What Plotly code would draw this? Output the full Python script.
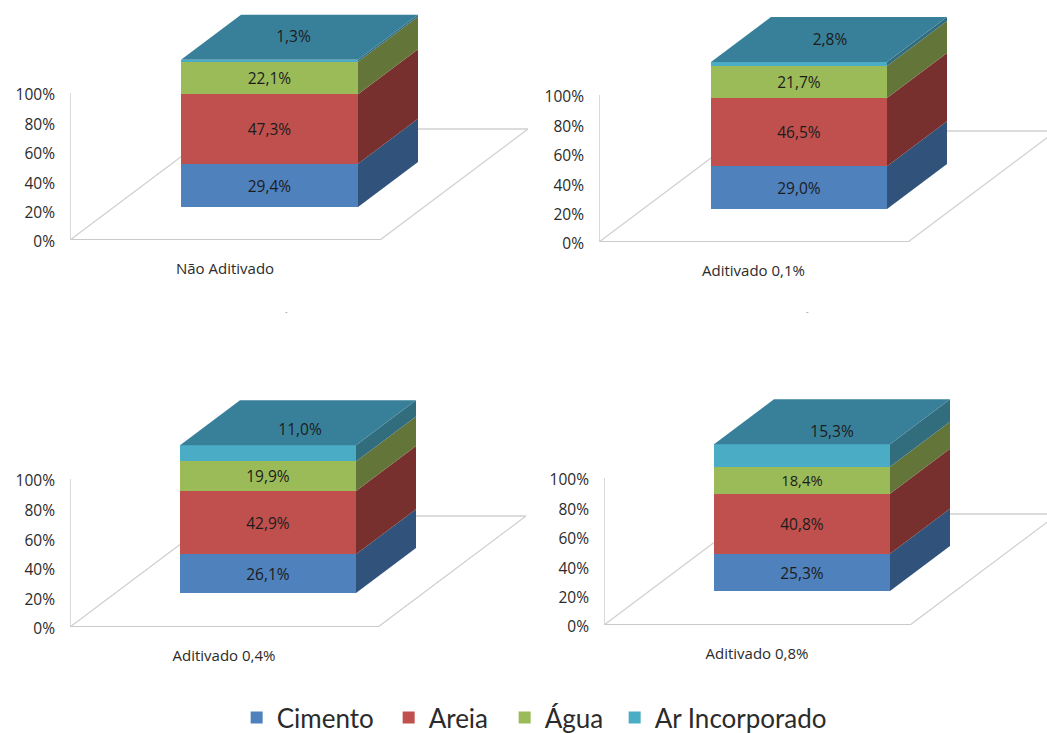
import plotly.graph_objects as go

# ---- data ----
categories = ["Não Aditivado", "Aditivado 0,1%", "Aditivado 0,4%", "Aditivado 0,8%"]
cimento = [29.4, 29.0, 26.1, 25.3]
areia = [47.3, 46.5, 42.9, 40.8]
agua = [22.1, 21.7, 19.9, 18.4]
ar_incorporado = [1.3, 2.8, 11.0, 15.3]
series_names = ["Cimento", "Areia", "Água", "Ar Incorporado"]
y_ticks = [0, 20, 40, 60, 80, 100]
y_tick_labels = ["0%", "20%", "40%", "60%", "80%", "100%"]

# ---- styles / panel geometry (page pixels) ----
W, H = 1047, 733
front = ["#4F81BD", "#C0504D", "#9BBB59", "#4BACC6"]
side = ["#31527A", "#78302E", "#64753A", "#326D7E"]
legend_widths = [107, 71, 65, 180]
top_col = "#38809A"
FONT = "Open Sans"
TXT = "#2b2b2b"
#         axis_x, y0,  y100, floor_right, bar_l, bar_r, bar_base, top_of_panel
panels = [(70, 240, 93, 380, 181, 358, 207, 5),
          (599, 242, 95, 908, 711, 887, 209, 5),
          (70, 627, 479, 378, 180, 356, 593, 390),
          (604, 625, 478, 910, 714, 890, 591, 390)]
label_dx = [-6, 1, 2, 0]
DX, DY = 60, 45          # bar depth
FDX, FDY = 148, 111      # floor depth

values = [cimento, areia, agua, ar_incorporado]
fig = go.Figure()
layout = dict(width=W, height=H, margin=dict(l=0, r=0, t=0, b=0, autoexpand=False),
              paper_bgcolor="white", plot_bgcolor="rgba(0,0,0,0)",
              barmode="overlay", bargap=0, showlegend=True, shapes=[])

fmt = lambda v: f"{v:.1f}%".replace(".", ",")

for p, (ax, y0, y100, fr, bl, br, bb, ptop) in enumerate(panels):
    n = "" if p == 0 else str(p + 1)
    xa, ya = f"x{n}", f"y{n}"
    unit = (y0 - y100) / 100.0     # pixels per percent
    xmax = min(W - ax, 560)
    layout[f"xaxis{n}"] = dict(
        domain=[ax / W, (ax + xmax) / W], range=[0, xmax], anchor=ya,
        tickmode="array", tickvals=[(fr - ax) / 2], ticktext=[categories[p]],
        showgrid=False, zeroline=False, showline=False, ticks="",
        ticklabelstandoff=18, tickfont=dict(family=FONT, size=15, color=TXT))
    layout[f"yaxis{n}"] = dict(
        domain=[1 - y0 / H, 1 - ptop / H], range=[0, (y0 - ptop) / unit], anchor=xa,
        tickmode="array", tickvals=y_ticks, ticktext=y_tick_labels,
        showgrid=False, zeroline=False, showline=False, ticks="",
        ticklabelstandoff=14, ticklabelshift=2,
        tickfont=dict(family=FONT, size=15.5, color=TXT))

    # floor and wall, behind the bars
    fw, fh = fr - ax, FDY / unit
    for (x1, v1, x2, v2, c) in [(0, 0, 0, 100, "#C4C4C4"),
                                (0, 0, fw, 0, "#B8B8B8"),
                                (0, 0, FDX, fh, "#D0D0D0"),
                                (fw, 0, fw + FDX, fh, "#D0D0D0"),
                                (FDX, fh, fw + FDX, fh, "#D0D0D0")]:
        layout["shapes"].append(dict(type="line", xref=xa, yref=ya, x0=x1, y0=v1,
                                     x1=x2, y1=v2, layer="below",
                                     line=dict(color=c, width=1.3)))

    base0 = (y0 - bb) / unit
    cx = (bl + br) / 2 - ax
    bw = br - bl
    dxv, dyv = DX, DY / unit
    cum = base0
    for s, name in enumerate(series_names):
        v = values[s][p]
        fig.add_trace(go.Bar(
            x=[cx], y=[v], base=[cum], width=[bw], name=name,
            marker=dict(color=front[s], line=dict(width=0)),
            text=[fmt(v) if s < 3 else ""], textposition="inside",
            insidetextanchor="middle", textangle=0,
            textfont=dict(family=FONT, size=15.5, color="#1c1c1c"),
            showlegend=p == 0, legendgroup=name, legendwidth=legend_widths[s],
            xaxis=xa, yaxis=ya))
        # side face of this segment
        xr = cx + bw / 2
        fig.add_trace(go.Scatter(
            x=[xr, xr + dxv, xr + dxv, xr, xr],
            y=[cum, cum + dyv, cum + v + dyv, cum + v, cum],
            mode="lines", fill="toself", fillcolor=side[s], line=dict(width=0),
            showlegend=False, hoverinfo="skip", xaxis=xa, yaxis=ya))
        cum += v
    # top face, carrying the label of the last series
    xl = cx - bw / 2
    xr = cx + bw / 2
    fig.add_trace(go.Scatter(
        x=[xl, xl + dxv, xr + dxv, xr, xl],
        y=[cum, cum + dyv, cum + dyv, cum, cum],
        mode="lines", fill="toself", fillcolor=top_col, line=dict(width=0),
        showlegend=False, hoverinfo="skip", xaxis=xa, yaxis=ya))
    last = values[3][p]
    fig.add_trace(go.Scatter(
        x=[cx + dxv / 2 + label_dx[p]], y=[cum - last / 2 + dyv / 2], mode="text",
        text=[fmt(last)], textposition="middle center",
        textfont=dict(family=FONT, size=15.5, color="#1c1c1c"),
        showlegend=False, hoverinfo="skip", xaxis=xa, yaxis=ya))

layout["legend"] = dict(orientation="h", x=0.514, xanchor="center", y=-0.011, yanchor="bottom",
                        font=dict(family="Lato", size=26, color="#2b2b2b"),
                        bgcolor="rgba(0,0,0,0)", traceorder="normal")
# the two small stray ticks under the upper charts
layout["annotations"] = [dict(x=x / W, y=1 - 310 / H, xref="paper", yref="paper", text="-",
                              showarrow=False, font=dict(family=FONT, size=8, color="#777777"))
                         for x in (283, 811)]
fig.update_layout(**layout)
fig.write_html("out.html", post_script="document.body.style.margin='0';",
               config={"displayModeBar": False})
